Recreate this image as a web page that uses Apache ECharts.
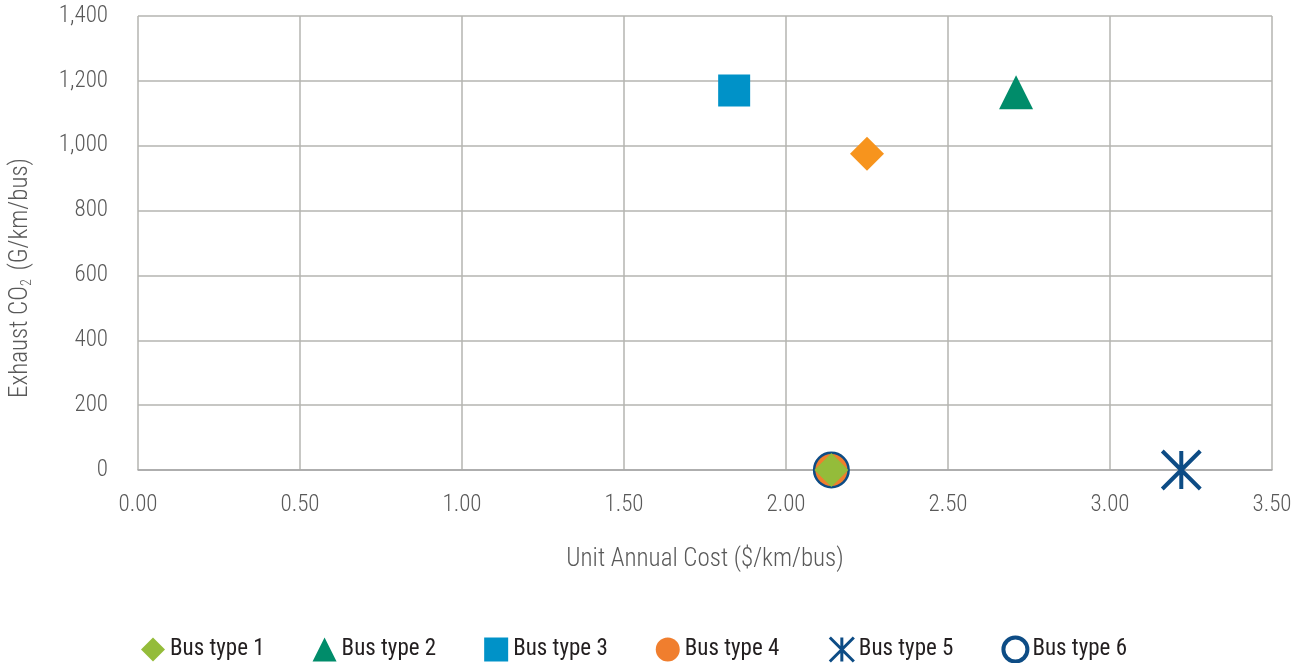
<!DOCTYPE html>
<html>
<head>
<meta charset="utf-8">
<script src="https://cdn.jsdelivr.net/npm/echarts@6/dist/echarts.min.js"></script>
<style>
  html, body { margin: 0; padding: 0; background: #fff; }
  #chart { width: 1299px; height: 663px; }
</style>
</head>
<body>
<div id="chart"></div>
<script>
const seriesNames = ['Bus type 1', 'Bus type 2', 'Bus type 3', 'Bus type 4', 'Bus type 5', 'Bus type 6']
// [unit annual cost, exhaust CO2]
const busType1 = [[2.14, 0], [2.25, 975]]
const busType2 = [[2.71, 1165]]
const busType3 = [[1.84, 1170]]
const busType4 = [[2.14, 0]]
const busType5 = [[3.22, 0]]
const busType6 = [[2.14, 0]]
const xTicks = [0, 0.5, 1, 1.5, 2, 2.5, 3, 3.5]
const yTicks = [0, 200, 400, 600, 800, 1000, 1200, 1400]

const font = '"Roboto Condensed", "Roboto", sans-serif'
const asterisk = 'path://M0,0L20,20M20,0L0,20M10,0L10,20'

const chart = echarts.init(document.getElementById('chart'))

chart.setOption({
  animation: false,
  grid: { left: 138, right: 27, top: 16, bottom: 193 },
  xAxis: {
    type: 'value',
    min: xTicks[0],
    max: xTicks[xTicks.length - 1],
    interval: 0.5,
    name: 'Unit Annual Cost ($/km/bus)',
    nameLocation: 'middle',
    nameGap: 77,
    nameTextStyle: { fontFamily: font, fontWeight: 300, fontSize: 25, color: '#595959' },
    axisLine: { show: true, lineStyle: { color: '#a6a6a6', width: 1.5 } },
    axisTick: { show: false },
    axisLabel: {
      margin: 24,
      fontFamily: font,
      fontWeight: 300,
      fontSize: 23,
      color: '#595959',
      formatter: v => v.toFixed(2)
    },
    splitLine: { show: true, lineStyle: { color: '#b5b5b0', width: 1.5 } }
  },
  yAxis: {
    type: 'value',
    min: yTicks[0],
    max: yTicks[yTicks.length - 1],
    interval: 200,
    name: 'Exhaust CO{sub|2} (G/km/bus)',
    nameLocation: 'middle',
    nameGap: 104,
    nameRotate: 90,
    nameTextStyle: {
      fontFamily: font,
      fontWeight: 300,
      fontSize: 25,
      color: '#595959',
      padding: [0, 70, 0, 0],
      rich: {
        sub: { fontFamily: font, fontWeight: 300, fontSize: 14, color: '#595959', verticalAlign: 'bottom', padding: [13, 3, 0, 0] }
      }
    },
    axisLine: { show: false },
    axisTick: { show: false },
    axisLabel: {
      margin: 30,
      fontFamily: font,
      fontWeight: 300,
      fontSize: 23,
      color: '#595959',
      formatter: v => v.toLocaleString('en-US')
    },
    splitLine: { show: true, lineStyle: { color: '#b5b5b0', width: 1.5 } }
  },
  legend: {
    left: 136,
    top: 630,
    itemWidth: 24,
    itemHeight: 24,
    itemGap: 48,
    textStyle: { fontFamily: font, fontSize: 23, color: '#231f20' },
    data: [
      seriesNames[0],
      seriesNames[1],
      seriesNames[2],
      seriesNames[3],
      { name: seriesNames[4], itemStyle: { borderWidth: 3 } },
      { name: seriesNames[5], itemStyle: { borderWidth: 4 } }
    ]
  },
  series: [
    {
      name: seriesNames[0],
      type: 'scatter',
      symbol: 'diamond',
      symbolSize: 34,
      z: 5,
      itemStyle: { color: '#94bc3a', opacity: 1 },
      data: [
        busType1[0],
        { value: busType1[1], itemStyle: { color: '#f7941d' } }
      ]
    },
    {
      name: seriesNames[1],
      type: 'scatter',
      symbol: 'triangle',
      symbolSize: [34, 34],
      itemStyle: { color: '#008c6a', opacity: 1 },
      data: busType2
    },
    {
      name: seriesNames[2],
      type: 'scatter',
      symbol: 'rect',
      symbolSize: 32,
      itemStyle: { color: '#0092c8', opacity: 1 },
      data: busType3
    },
    {
      name: seriesNames[3],
      type: 'scatter',
      symbol: 'circle',
      symbolSize: 32,
      z: 4,
      itemStyle: { color: '#f07e2e', opacity: 1 },
      data: busType4
    },
    {
      name: seriesNames[4],
      type: 'scatter',
      symbol: asterisk,
      symbolSize: 38,
      itemStyle: { color: 'none', borderColor: '#0d4c85', borderWidth: 4, opacity: 1 },
      data: busType5
    },
    {
      name: seriesNames[5],
      type: 'scatter',
      symbol: 'circle',
      symbolSize: 33,
      z: 3,
      itemStyle: { color: '#ffffff', borderColor: '#0d4c85', borderWidth: 4, opacity: 1 },
      data: busType6
    }
  ]
})
</script>
</body>
</html>
